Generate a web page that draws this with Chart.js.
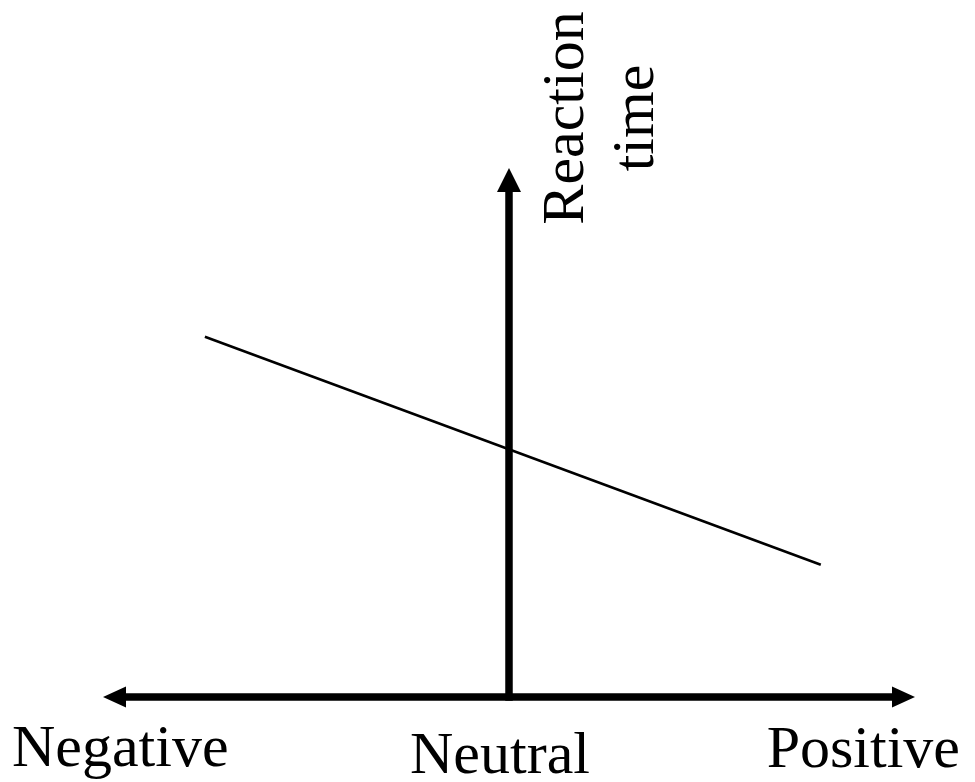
<!DOCTYPE html>
<html>
<head>
<meta charset="utf-8">
<script src="https://cdn.jsdelivr.net/npm/chart.js@4/dist/chart.umd.min.js"></script>
<style>
  html, body { margin: 0; padding: 0; background: #ffffff; }
  #wrap { width: 975px; height: 782px; position: relative; }
</style>
</head>
<body>
<div id="wrap"><canvas id="c"></canvas></div>
<script>
// ---- data ----
const categories = ['Negative', 'Neutral', 'Positive'];
const categoryValues = [-1, 0, 1];
const yAxisTitle = ['Reaction', 'time'];
const trendX = [-0.749, 0.768];
const trendY = [0.681, 0.250];

const points = trendX.map((x, i) => ({ x: x, y: trendY[i] }));

const FONT = '"Liberation Serif", "Times New Roman", serif';

const arrowsPlugin = {
  id: 'arrows',
  afterDatasetsDraw(chart) {
    const ctx = chart.ctx;
    const xs = chart.scales.x, ys = chart.scales.y;
    const x0 = xs.getPixelForValue(0);
    const xl = xs.getPixelForValue(-1);
    const xr = xs.getPixelForValue(1);
    const y0 = ys.getPixelForValue(0);
    const yt = ys.getPixelForValue(1);
    const shaft = 7.5, headL = 23, headW = 11.5;
    ctx.save();
    ctx.fillStyle = '#000';
    // horizontal shaft
    ctx.fillRect(xl + headL - 1, y0 - shaft / 2, (xr - headL + 1) - (xl + headL - 1), shaft);
    // left head
    ctx.beginPath();
    ctx.moveTo(xl, y0);
    ctx.lineTo(xl + headL, y0 - headW + 1);
    ctx.lineTo(xl + headL, y0 + headW - 1);
    ctx.closePath(); ctx.fill();
    // right head
    ctx.beginPath();
    ctx.moveTo(xr, y0);
    ctx.lineTo(xr - headL, y0 - headW + 1);
    ctx.lineTo(xr - headL, y0 + headW - 1);
    ctx.closePath(); ctx.fill();
    // vertical shaft
    ctx.fillRect(x0 - shaft / 2, yt + headL - 1, shaft, y0 - (yt + headL - 1) + shaft / 2);
    // top head
    ctx.beginPath();
    ctx.moveTo(x0, yt);
    ctx.lineTo(x0 - headW - 0.5, yt + headL + 1);
    ctx.lineTo(x0 + headW + 0.5, yt + headL + 1);
    ctx.closePath(); ctx.fill();

    // category labels
    ctx.font = '60px ' + FONT;
    ctx.textBaseline = 'alphabetic';
    const px = categoryValues.map(v => xs.getPixelForValue(v));
    ctx.textAlign = 'left';
    ctx.fillText(categories[0], px[0] - 91, y0 + 69);
    ctx.textAlign = 'center';
    ctx.fillText(categories[1], px[1] - 9, y0 + 76);
    ctx.textAlign = 'right';
    ctx.fillText(categories[2], px[2] + 45, y0 + 70);

    // rotated axis title
    ctx.save();
    ctx.translate(x0 + 74, yt - 50);
    ctx.rotate(-Math.PI / 2);
    ctx.textAlign = 'center';
    ctx.fillText(yAxisTitle[0], 0, 0);
    ctx.restore();
    ctx.save();
    ctx.translate(x0 + 144, yt - 50);
    ctx.rotate(-Math.PI / 2);
    ctx.textAlign = 'center';
    ctx.fillText(yAxisTitle[1], 0, 0);
    ctx.restore();
    ctx.restore();
  }
};

new Chart(document.getElementById('c'), {
  type: 'scatter',
  data: {
    datasets: [{
      data: points,
      showLine: true,
      borderColor: '#000',
      borderWidth: 2.5,
      pointRadius: 0,
      clip: false,
      fill: false
    }]
  },
  options: {
    responsive: true,
    maintainAspectRatio: false,
    animation: false,
    events: [],
    layout: { padding: { left: 103, right: 60, top: 168, bottom: 85 } },
    plugins: { legend: { display: false }, tooltip: { enabled: false } },
    scales: {
      x: { type: 'linear', min: -1, max: 1, display: false },
      y: { type: 'linear', min: 0, max: 1, display: false }
    }
  },
  plugins: [arrowsPlugin]
});
</script>
</body>
</html>
